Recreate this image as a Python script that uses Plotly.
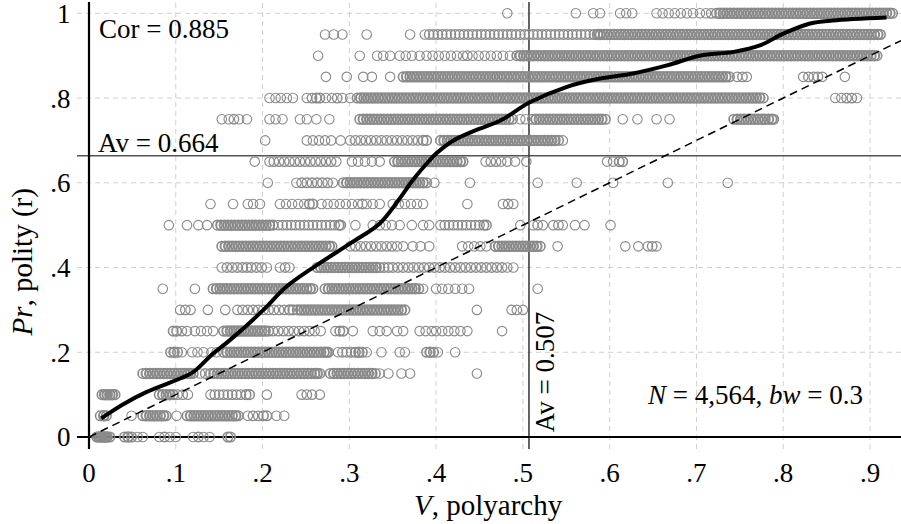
import plotly.graph_objects as go

# ---- data ----
levels = [0.00, 0.05, 0.10, 0.15, 0.20, 0.25, 0.30, 0.35, 0.40, 0.45, 0.50,
          0.55, 0.60, 0.65, 0.70, 0.75, 0.80, 0.85, 0.90, 0.95, 1.00]

r000 = [0.009,0.011,0.013,0.015,0.017,0.019,0.021,0.024,0.041,0.045,0.049,0.056,0.062,0.081,0.087,0.093,0.100,0.120,0.126,0.132,0.139,0.160,0.163]
r005 = [0.013,0.017,0.020,0.049,0.062,0.066,0.070,0.074,0.078,0.082,0.086,0.089,0.101,0.113,0.117,0.121,0.125,0.129,0.133,0.137,0.141,0.145,0.149,0.153,0.157,0.161,0.165,0.169,0.172,0.183,0.189,0.195,0.201,0.205,0.216,0.225]
r010 = [0.015,0.018,0.021,0.024,0.027,0.030,0.081,0.085,0.089,0.093,0.097,0.102,0.108,0.114,0.140,0.145,0.150,0.155,0.160,0.165,0.170,0.175,0.181,0.185,0.205,0.245,0.251,0.257,0.266]
r015 = [0.062,0.066,0.070,0.074,0.078,0.082,0.086,0.090,0.094,0.098,0.102,0.106,0.110,0.114,0.117,0.120,0.128,0.134,
        0.140,0.144,0.148,0.152,0.156,0.160,0.164,0.168,0.172,0.176,0.180,0.184,0.188,0.192,0.196,0.200,0.204,0.208,0.212,0.216,0.220,0.224,0.228,0.232,0.236,0.240,0.244,0.248,0.252,0.256,0.260,0.263,0.266,
        0.278,0.282,0.286,0.290,0.294,0.298,0.302,0.306,0.310,0.314,0.318,0.322,0.326,0.330,0.335,0.345,0.360,0.370,0.447]
r020 = [0.094,0.098,0.102,0.107,0.119,0.125,0.132,0.141,0.147,
        0.155,0.159,0.163,0.167,0.171,0.175,0.179,0.183,0.187,0.191,0.195,0.199,0.203,0.207,0.211,0.215,0.219,0.223,0.227,0.231,0.235,0.239,0.243,0.247,0.251,0.255,0.259,0.263,0.267,0.271,0.274,0.276,
        0.287,0.292,0.297,0.302,0.307,0.311,0.315,0.320,0.337,0.358,0.364,0.389,0.393,0.397,0.402,0.422]
r025 = [0.097,0.101,0.107,0.113,0.122,0.129,0.136,0.143,
        0.155,0.159,0.163,0.167,0.171,0.175,0.179,0.183,0.187,0.191,0.195,0.199,0.203,0.207,0.212,
        0.218,0.224,0.230,0.236,0.242,0.248,0.254,0.260,0.267,0.284,0.289,0.293,0.304,0.327,0.335,0.343,0.355,0.362,0.381,0.388,0.395,0.400,0.407,0.414,0.421,0.428,0.436,0.476]
r030 = [0.105,0.111,0.117,0.137,0.157,0.171,0.177,0.183,0.189,0.195,0.201,0.207,0.213,0.219,0.225,0.231,0.235,
        0.240,0.244,0.248,0.252,0.256,0.260,0.264,0.268,0.272,0.276,0.280,0.284,0.288,0.292,0.296,0.300,0.304,0.308,0.312,0.316,0.320,0.324,0.328,0.332,0.336,0.340,0.344,0.348,0.352,0.356,0.360,0.364,
        0.447,0.487,0.493,0.500]
r035 = [0.085,0.122,
        0.143,0.147,0.151,0.155,0.159,0.163,0.167,0.171,0.175,0.179,0.183,0.187,0.191,0.195,0.199,0.203,0.207,0.211,0.215,0.219,0.223,0.227,0.231,0.235,0.239,0.243,0.247,0.251,0.255,0.258,
        0.272,0.276,0.280,0.284,0.288,0.292,0.296,0.300,0.304,0.308,0.312,0.316,0.320,0.324,0.328,0.332,0.336,0.340,0.344,0.348,0.352,0.356,0.360,0.364,0.368,0.372,0.376,0.380,0.385,
        0.400,0.407,0.414,0.422,0.430,0.438,0.517]
r040 = [0.153,0.159,0.165,0.171,0.177,0.182,0.187,0.193,0.199,0.205,0.220,0.226,0.231,
        0.263,0.267,0.271,0.275,0.279,0.283,0.287,0.291,0.295,0.299,0.303,0.307,0.311,0.315,0.319,0.323,0.327,0.331,0.335,
        0.340,0.345,0.350,0.356,0.362,0.368,0.374,0.380,0.386,0.392,0.398,0.404,0.410,0.416,0.422,0.428,0.434,0.440,0.446,0.452,0.458,0.464,0.470,0.476,0.482,0.489]
r045 = [0.153,0.157,0.161,0.165,0.169,0.173,0.177,0.181,0.185,0.189,0.193,0.197,0.201,0.205,0.209,0.213,0.217,0.221,0.225,0.229,0.233,0.237,0.241,0.245,0.249,0.253,0.257,0.261,0.265,0.269,0.273,0.277,0.280,
        0.301,0.307,0.313,0.319,0.325,0.331,0.337,0.343,0.349,0.355,0.362,0.373,0.382,0.392,0.430,0.437,0.444,0.451,0.458,
        0.468,0.472,0.476,0.480,0.484,0.488,0.492,0.496,0.500,0.504,0.508,0.512,0.516,0.520,
        0.540,0.618,0.633,0.644,0.649,0.654]
r050 = [0.092,0.113,0.126,0.136,
        0.148,0.152,0.156,0.160,0.164,0.168,0.172,0.176,0.180,0.184,0.188,0.192,0.196,0.200,0.204,0.208,0.212,
        0.218,0.223,0.228,0.233,0.238,0.243,0.248,0.253,0.258,0.263,0.268,0.273,0.278,0.283,0.288,0.290,
        0.307,0.327,0.335,0.342,0.349,0.358,0.372,0.385,0.392,
        0.405,0.410,0.415,0.420,0.425,0.430,0.435,0.440,0.445,0.450,0.455,0.458,
        0.497,0.512,0.517,0.523,0.535,0.541,0.546,0.560,0.571,0.601]
r055 = [0.140,0.166,0.183,0.189,0.197,0.220,0.227,0.234,0.241,0.248,0.254,0.258,0.268,0.275,0.282,0.289,0.296,0.303,0.310,0.315,0.320,0.327,0.335,0.350,0.357,0.364,0.371,0.378,0.385,0.436,0.477,0.483,0.489]
r060 = [0.206,0.239,0.245,0.251,0.257,0.263,0.269,0.275,0.281,
        0.293,0.297,0.301,0.305,0.309,0.313,0.317,0.321,0.325,0.329,0.333,0.337,0.341,0.345,0.349,0.353,0.357,0.361,0.365,0.369,0.373,0.377,0.381,0.385,0.389,
        0.398,0.439,0.517,0.562,0.604,0.667,0.736]
r065 = [0.191,0.208,0.213,0.219,0.225,0.231,0.237,0.243,0.249,0.255,0.261,0.267,0.273,0.279,0.285,0.303,0.310,0.318,0.326,0.335,
        0.352,0.356,0.360,0.364,0.368,0.372,0.376,0.380,0.384,0.388,0.392,0.396,0.400,0.404,0.408,0.412,0.416,0.420,0.424,0.428,0.431,
        0.457,0.463,0.469,0.475,0.482,0.491,0.504,0.597,0.604,0.611,0.615]
r070 = [0.203,0.251,0.258,0.265,0.272,0.279,0.290,0.301,0.307,0.313,0.319,0.325,0.331,0.337,0.343,0.349,0.355,0.361,0.367,0.373,0.379,0.385,0.389,
        0.405,0.409,0.413,0.417,0.421,0.425,0.429,0.433,0.437,0.441,0.445,0.449,0.453,0.457,0.461,0.465,0.469,0.473,0.477,0.481,0.485,0.489,0.493,0.497,0.501,0.505,0.509,0.513,0.517,0.521,0.525,0.529,0.533,0.537,0.541,0.546]
r075 = [0.153,0.161,0.167,0.173,0.182,0.208,0.215,0.223,0.243,0.251,0.262,0.277,
        0.312,0.316,0.320,0.324,0.328,0.332,0.336,0.340,0.344,0.348,0.352,0.356,0.360,0.364,0.368,0.372,0.376,0.380,0.384,0.388,0.392,0.396,0.400,0.404,0.408,0.412,0.416,0.420,0.424,0.428,0.432,0.436,0.440,0.444,0.448,0.452,0.456,0.460,0.464,0.468,0.472,0.476,0.480,0.484,0.488,
        0.497,0.503,
        0.511,0.515,0.519,0.523,0.527,0.531,0.535,0.539,0.543,0.547,0.551,0.555,0.559,0.563,0.567,0.571,0.575,0.579,0.583,0.587,0.591,0.595,
        0.615,0.632,0.654,0.669,
        0.743,0.747,0.751,0.755,0.759,0.763,0.767,0.771,0.775,0.779,0.783,0.787,0.789]
r080 = [0.208,0.215,0.221,0.228,0.235,0.251,0.257,0.262,0.266,0.273,0.280,0.286,0.292,0.301,
        0.309,0.313,0.317,0.321,0.325,0.329,0.333,0.337,0.341,0.345,0.349,0.353,0.357,0.361,0.365,0.369,0.373,0.377,0.381,0.385,0.389,0.393,0.397,0.401,0.405,0.409,0.413,0.417,0.421,0.425,0.429,0.433,0.437,0.441,0.445,0.449,0.453,0.457,0.461,0.465,0.469,0.473,0.477,0.481,0.485,0.489,0.493,0.497,0.501,0.505,0.509,0.513,0.517,0.521,0.525,0.529,0.533,0.537,0.541,0.545,0.549,0.553,0.557,0.561,0.565,0.569,0.573,0.577,0.581,0.585,0.589,0.593,0.597,0.601,0.605,0.609,0.613,0.617,0.621,0.625,0.629,0.633,0.637,0.641,0.645,0.649,0.653,0.657,0.661,0.665,0.669,0.673,0.677,0.681,0.685,0.689,0.693,0.697,0.701,0.705,0.709,0.713,0.717,0.721,0.725,0.729,0.733,0.737,0.741,0.745,0.749,0.753,0.757,0.761,0.765,0.769,0.773,0.777,
        0.860,0.867,0.873,0.879,0.885]
r085 = [0.273,0.297,0.316,0.326,0.347,
        0.362,0.366,0.370,0.374,0.378,0.382,0.386,0.390,0.394,0.398,0.402,0.406,0.410,0.414,0.418,0.422,0.426,0.430,0.434,0.438,0.442,0.446,0.450,0.454,0.458,0.462,0.466,0.470,0.474,0.478,0.482,0.486,0.490,0.494,0.498,0.502,0.506,0.510,0.514,0.518,0.522,0.526,0.530,0.534,0.538,0.542,0.546,0.550,0.554,0.558,0.562,0.566,0.570,0.574,0.578,0.582,0.586,0.590,0.594,0.598,0.602,0.606,0.610,0.614,0.618,0.622,0.626,0.630,0.634,0.638,0.642,0.646,0.650,0.654,0.658,0.662,0.666,0.670,0.674,0.678,0.682,0.686,0.690,0.694,0.698,0.702,0.706,0.710,0.714,0.718,0.722,0.726,0.730,0.734,0.738,
        0.747,0.753,0.758,0.823,0.829,0.835,0.840,0.845,0.871]
r090 = [0.264,0.312,0.332,0.339,0.347,0.358,0.365,0.372,0.381,0.389,0.396,0.403,0.410,0.417,0.424,0.431,0.436,0.442,0.449,0.456,0.463,0.470,0.477,0.485,
        0.493,0.497,0.501,0.505,0.509,0.513,0.517,0.521,0.525,0.529,0.533,0.537,0.541,0.545,0.549,0.553,0.557,0.561,0.565,0.569,0.573,0.577,0.581,0.585,0.589,0.593,0.597,0.601,0.605,0.609,0.613,0.617,0.621,0.625,0.629,0.633,0.637,0.641,0.645,0.649,0.653,0.657,0.661,0.665,0.669,0.673,0.677,0.681,0.685,0.689,0.693,0.697,0.701,0.705,0.709,0.713,0.717,0.721,0.725,0.729,0.733,0.737,0.741,0.745,0.749,0.753,0.757,0.761,0.765,0.769,0.773,0.777,0.781,0.785,0.789,0.793,0.797,0.801,0.805,0.809,0.813,0.817,0.821,0.825,0.829,0.833,0.837,0.841,0.845,0.849,0.853,0.857,0.861,0.865,0.869,0.873,0.877,0.881,0.885,0.889,0.893,0.897,0.901,0.905,0.908]
r095 = [0.272,0.282,0.292,0.320,0.370,
        0.387,0.392,0.397,0.402,0.407,0.412,0.417,0.422,0.427,0.432,0.437,0.442,0.447,0.452,0.457,0.462,0.467,0.472,0.477,0.482,0.487,0.492,0.497,0.502,0.507,0.512,0.517,0.522,0.527,0.532,0.537,0.542,0.547,0.552,0.557,0.562,0.567,0.572,0.577,0.582,0.586,
        0.589,0.593,0.597,0.601,0.605,0.609,0.613,0.617,0.621,0.625,0.629,0.633,0.637,0.641,0.645,0.649,0.653,0.657,0.661,0.665,0.669,0.673,0.677,0.681,0.685,0.689,0.693,0.697,0.701,0.705,0.709,0.713,0.717,0.721,0.725,0.729,0.733,0.737,0.741,0.745,0.749,0.753,0.757,0.761,0.765,0.769,0.773,0.777,0.781,0.785,0.789,0.793,0.797,0.801,0.805,0.809,0.813,0.817,0.821,0.825,0.829,0.833,0.837,0.841,0.845,0.849,0.853,0.857,0.861,0.865,0.869,0.873,0.877,0.881,0.885,0.889,0.893,0.897,0.901,0.905,0.909,0.912]
r100 = [0.482,0.561,0.581,0.589,0.612,0.619,0.626,0.654,0.661,0.668,0.675,0.682,0.689,0.696,0.704,0.711,0.717,
        0.723,0.727,0.731,0.735,0.739,0.743,0.747,0.751,0.755,0.759,0.763,0.767,0.771,0.775,0.779,0.783,0.787,0.791,0.795,0.799,0.803,0.807,0.811,0.815,0.819,0.823,0.827,0.831,0.835,0.839,0.843,0.847,0.851,0.855,0.859,0.863,0.867,0.871,0.875,0.879,0.883,0.887,0.891,0.895,0.899,0.903,0.907,0.911,0.915,0.919,0.923,0.926]

rows = [r000, r005, r010, r015, r020, r025, r030, r035, r040, r045, r050,
        r055, r060, r065, r070, r075, r080, r085, r090, r095, r100]

# lowess fit (bw = 0.3)
lowess_x = [0.014,0.04,0.066,0.105,0.12,0.143,0.162,0.201,0.227,0.262,0.302,0.335,0.357,0.373,0.392,0.40,0.42,0.443,0.474,0.508,0.55,0.589,0.627,0.666,0.704,0.743,0.774,0.80,0.831,0.857,0.919]
lowess_y = [0.044,0.078,0.106,0.138,0.153,0.197,0.228,0.30,0.354,0.405,0.458,0.504,0.56,0.606,0.652,0.669,0.70,0.722,0.747,0.79,0.826,0.846,0.858,0.877,0.90,0.909,0.925,0.952,0.976,0.983,0.99]

av_x = 0.507
av_y = 0.664
cor_text = "Cor = 0.885"
n_text = "<i>N</i> = 4,564, <i>bw</i> = 0.3"

x_ticks = [0, 0.1, 0.2, 0.3, 0.4, 0.5, 0.6, 0.7, 0.8, 0.9]
x_labels = ["0", ".1", ".2", ".3", ".4", ".5", ".6", ".7", ".8", ".9"]
y_ticks = [0, 0.2, 0.4, 0.6, 0.8, 1.0]
y_labels = ["0", ".2", ".4", ".6", ".8", "1"]

X_MAX = 0.9357
Y_MAX = 1.0267

# ---- figure ----
# overlapping circles in crowded runs look like solid bands: thicken ring
# outlines where neighbours are packed tightly
xs, ys, widths = [], [], []
for lv, row in zip(levels, rows):
    s = sorted(row)
    for i, x in enumerate(s):
        gl = x - s[i - 1] if i > 0 else 1.0
        gr = s[i + 1] - x if i < len(s) - 1 else 1.0
        tight = (gl <= 0.0045) + (gr <= 0.0045)
        if tight == 2:
            w = 2.0
        elif tight == 1:
            w = 1.6
        elif gl <= 0.0065 and gr <= 0.0065:
            w = 1.35
        else:
            w = 1.1
        xs.append(x)
        ys.append(lv)
        widths.append(w)

FONT = "Liberation Serif"
GRID = "#d0d0d0"
PT = "#8a8a8a"
fig = go.Figure()
fig.add_trace(go.Scatter(
    x=xs, y=ys, mode="markers", cliponaxis=False, hoverinfo="skip",
    marker=dict(symbol="circle-open", size=9.5, color=PT,
                line=dict(width=widths, color=PT)),
    showlegend=False))
fig.add_trace(go.Scatter(
    x=[0, X_MAX], y=[0, X_MAX], mode="lines", cliponaxis=True,
    line=dict(color="black", width=1.5, dash="8px,5px"), showlegend=False))
fig.add_trace(go.Scatter(
    x=lowess_x, y=lowess_y, mode="lines", line_shape="spline",
    line=dict(color="black", width=4), showlegend=False))

L, R, T, B = 89, 0, 2, 87
W, H = 901, 524
pw, ph = W - L - R, H - T - B
tick_px = 12

shapes = []
# dashed grid lines, continued outside the plot as the tick marks
for v in x_ticks[1:]:
    shapes.append(dict(type="line", xref="paper", yref="paper", x0=v / X_MAX, x1=v / X_MAX,
                       y0=-tick_px / ph, y1=1, layer="below",
                       line=dict(color=GRID, width=1, dash="5px,4px")))
for v in y_ticks[1:]:
    shapes.append(dict(type="line", xref="paper", yref="paper", x0=-tick_px / pw, x1=1,
                       y0=v / Y_MAX, y1=v / Y_MAX, layer="below",
                       line=dict(color=GRID, width=1, dash="5px,4px")))
shapes += [
    dict(type="line", xref="paper", yref="paper", x0=-tick_px / pw, x1=1,
         y0=av_y / Y_MAX, y1=av_y / Y_MAX, line=dict(color="#555555", width=1.5), layer="between"),
    dict(type="line", xref="paper", yref="paper", x0=av_x / X_MAX, x1=av_x / X_MAX,
         y0=-tick_px / ph, y1=1, line=dict(color="#333333", width=1.5), layer="between"),
    dict(type="line", xref="paper", yref="paper", x0=-tick_px / pw, x1=1, y0=0, y1=0,
         line=dict(color="black", width=2.2), layer="between"),
    dict(type="line", xref="paper", yref="paper", x0=0, x1=0, y0=-tick_px / ph, y1=1,
         line=dict(color="black", width=2.2), layer="between"),
]

annotations = [
    dict(x=0.009, y=0.962, xref="x", yref="y", text=cor_text, showarrow=False,
         xanchor="left", yanchor="middle", font=dict(family=FONT, size=27, color="black")),
    dict(x=0.008, y=0.693, xref="x", yref="y", text=f"Av = {av_y:.3f}", showarrow=False,
         xanchor="left", yanchor="middle", font=dict(family=FONT, size=27, color="black")),
    dict(x=0.5255, y=0.153, xref="x", yref="y", text=f"Av = {av_x:.3f}", showarrow=False,
         textangle=-90, xanchor="center", yanchor="middle",
         font=dict(family=FONT, size=27, color="black")),
    dict(x=0.767, y=0.098, xref="x", yref="y", text=n_text, showarrow=False,
         xanchor="center", yanchor="middle", font=dict(family=FONT, size=27, color="black")),
    dict(x=0.4926, y=-0.157, xref="paper", yref="paper", text="<i>V</i>, polyarchy",
         showarrow=False, xanchor="center", yanchor="middle",
         font=dict(family=FONT, size=29, color="black")),
    dict(x=-0.082, y=0.402, xref="paper", yref="paper", text="<i>Pr</i>, polity (r)",
         showarrow=False, textangle=-90, xanchor="center", yanchor="middle",
         font=dict(family=FONT, size=29, color="black")),
]

axis_common = dict(showline=False, zeroline=False, showgrid=False, ticks="outside",
                   ticklen=tick_px, tickcolor="rgba(0,0,0,0)", tickwidth=1,
                   ticklabeloverflow="allow",
                   tickfont=dict(family=FONT, size=27, color="black"))

fig.update_layout(
    width=W, height=H, margin=dict(l=L, r=R, t=T, b=B, autoexpand=False),
    paper_bgcolor="white", plot_bgcolor="white",
    xaxis=dict(range=[0, X_MAX], tickvals=x_ticks, ticktext=x_labels, **axis_common),
    yaxis=dict(range=[0, Y_MAX], tickvals=y_ticks, ticktext=y_labels, **axis_common),
    shapes=shapes, annotations=annotations,
)

fig.write_html("out.html")
